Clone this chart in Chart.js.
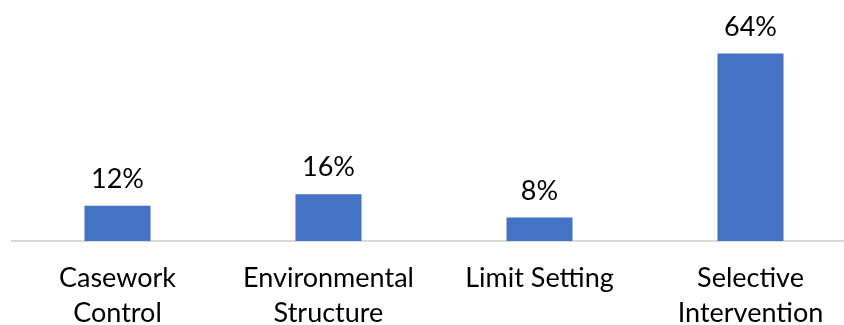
<!DOCTYPE html>
<html>
<head>
<meta charset="utf-8">
<script src="https://cdn.jsdelivr.net/npm/chart.js@4"></script>
<style>
  html, body { margin: 0; padding: 0; background: #fff; overflow: hidden; }
  /* the plot runs past the right edge in the original, so the frame clips it */
  #frame { width: 844px; height: 325px; overflow: hidden; position: relative; }
</style>
</head>
<body>
<div id="frame">
  <canvas id="barChart" width="880" height="345"></canvas>
</div>
<script>
// categories (two lines each) and values in %
const categories = [
    ["Casework", "Control"],
    ["Environmental", "Structure"],
    ["Limit Setting"],
    ["Selective", "Intervention"]
];
const percentValues = [12, 16, 8, 64];

const FONT = "Lato, 'Open Sans', sans-serif";

//value labels above bars, placed from the bar elements the library laid out
const valueLabels = {
    id: 'valueLabels',
    afterDatasetsDraw(chart) {
        const ctx = chart.ctx;
        const meta = chart.getDatasetMeta(0);
        ctx.save();
        ctx.font = "27px " + FONT;
        ctx.fillStyle = "#000";
        ctx.textAlign = "center";
        ctx.textBaseline = "alphabetic";
        meta.data.forEach((bar, i) => {
            ctx.fillText(percentValues[i] + "%", bar.x, bar.y - 18);
        });
        ctx.restore();
    }
};

new Chart(document.getElementById('barChart'), {
    type: 'bar',
    data: {
        labels: categories,
        datasets: [{
            data: percentValues,
            backgroundColor: "#4472C4",
            borderWidth: 0,
            barPercentage: 1,
            categoryPercentage: 0.313
        }]
    },
    options: {
        responsive: false,
        animation: false,
        layout: {
            padding: { top: 36, left: 12, right: 24, bottom: 0 }
        },
        plugins: {
            legend: { display: false },
            tooltip: { enabled: false }
        },
        scales: {
            x: {
                grid: { display: false, drawTicks: false },
                border: { display: true, color: "#d9d9d9", width: 2 },
                ticks: {
                    color: "#000",
                    padding: 20,
                    maxRotation: 0,
                    font: { family: FONT, size: 27, lineHeight: 1.28 }
                },
                afterFit(scale) {
                    scale.height = 104; //baseline lands at y ~241
                }
            },
            y: {
                display: false,
                min: 0,
                max: 70
            }
        }
    },
    plugins: [valueLabels]
});
</script>
</body>
</html>
